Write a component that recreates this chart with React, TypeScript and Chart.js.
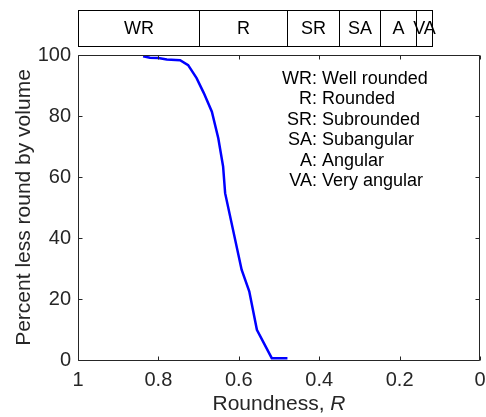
import { useEffect, useRef } from "react";
import { Chart, registerables } from "chart.js";

Chart.register(...registerables);

// Cumulative roundness distribution
const roundness = [0.838, 0.821, 0.8, 0.779, 0.746, 0.726, 0.705, 0.687, 0.667, 0.651, 0.639, 0.634, 0.593, 0.574, 0.555, 0.518, 0.479];
const percentLessRound = [99.6, 99.1, 99.0, 98.5, 98.3, 96.7, 92.4, 87.5, 81.4, 72.7, 63.4, 54.7, 29.6, 22.5, 9.9, 0.6, 0.6];

// Roundness classes (upper to lower bound)
const classBounds = [1, 0.7, 0.48, 0.35, 0.25, 0.16, 0.12];
const classCodes = ["WR", "R", "SR", "SA", "A", "VA"];
const classNames = ["Well rounded", "Rounded", "Subrounded", "Subangular", "Angular", "Very angular"];

const xTicks = [1, 0.8, 0.6, 0.4, 0.2, 0];
const yTicks = [0, 20, 40, 60, 80, 100];

const FONT = '"Liberation Sans", Arial, Helvetica, sans-serif';
const AXIS_COLOR = "#262626";

const decorations = {
  id: "decorations",
  afterDraw(chart: any) {
    const { ctx, chartArea: a } = chart;
    const xs = chart.scales.x;
    const ys = chart.scales.y;
    ctx.save();

    // axes box with inward tick marks
    const L = Math.round(a.left) + 0.5;
    const R = Math.round(a.right) - 0.5;
    const T = Math.round(a.top) + 0.5;
    const B = Math.round(a.bottom) + 0.5;
    ctx.strokeStyle = AXIS_COLOR;
    ctx.lineWidth = 1;
    ctx.beginPath();
    ctx.rect(L, T, R - L, B - T);
    const tick = 4;
    xTicks.forEach((v) => {
      const px = Math.round(xs.getPixelForValue(v)) + 0.5;
      ctx.moveTo(px, B);
      ctx.lineTo(px, B - tick);
      ctx.moveTo(px, T);
      ctx.lineTo(px, T + tick);
    });
    yTicks.forEach((v) => {
      const py = Math.round(ys.getPixelForValue(v)) + 0.5;
      ctx.moveTo(L, py);
      ctx.lineTo(L + tick, py);
      ctx.moveTo(R, py);
      ctx.lineTo(R - tick, py);
    });
    ctx.stroke();

    // class band above the plot
    const bandTop = 10.5;
    const bandBottom = 46.5;
    ctx.strokeStyle = "#000";
    ctx.fillStyle = "#000";
    ctx.font = `18px ${FONT}`;
    ctx.textAlign = "center";
    ctx.textBaseline = "middle";
    for (let i = 0; i < classCodes.length; i++) {
      const x0 = Math.round(xs.getPixelForValue(classBounds[i])) + 0.5;
      const x1 = Math.round(xs.getPixelForValue(classBounds[i + 1])) + 0.5;
      ctx.strokeRect(x0, bandTop, x1 - x0, bandBottom - bandTop);
      ctx.fillText(classCodes[i], (x0 + x1) / 2, 29);
    }

    // class legend
    const colonX = 317;
    const nameX = 322;
    const baseline0 = 83.5;
    const rowGap = 20.5;
    ctx.textBaseline = "alphabetic";
    classCodes.forEach((code, i) => {
      const by = baseline0 + i * rowGap;
      ctx.textAlign = "right";
      ctx.fillText(code + ":", colonX, by);
      ctx.textAlign = "left";
      ctx.fillText(classNames[i], nameX, by);
    });

    // x-axis title with italic symbol
    ctx.fillStyle = AXIS_COLOR;
    const plain = "Roundness, ";
    const sym = "R";
    const plainFont = `21px ${FONT}`;
    const symFont = `italic 21px ${FONT}`;
    ctx.font = plainFont;
    const w1 = ctx.measureText(plain).width;
    ctx.font = symFont;
    const w2 = ctx.measureText(sym).width;
    const cx = (a.left + a.right) / 2;
    const startX = cx - (w1 + w2) / 2;
    ctx.textAlign = "left";
    ctx.font = plainFont;
    ctx.fillText(plain, startX, 410);
    ctx.font = symFont;
    ctx.fillText(sym, startX + w1, 410);

    // y-axis title
    ctx.font = `21px ${FONT}`;
    ctx.textAlign = "center";
    ctx.translate(30, (a.top + a.bottom) / 2);
    ctx.rotate(-Math.PI / 2);
    ctx.fillText("Percent less round by volume", 0, 0);

    ctx.restore();
  },
};

export default function App() {
  const canvasRef = useRef<HTMLCanvasElement | null>(null);

  useEffect(() => {
    const canvas = canvasRef.current;
    if (!canvas) return;
    const chart = new Chart(canvas, {
      type: "line",
      data: {
        datasets: [
          {
            data: roundness.map((r, i) => ({ x: r, y: percentLessRound[i] })),
            borderColor: "#0000ff",
            borderWidth: 2.5,
            pointRadius: 0,
            tension: 0,
            fill: false,
          },
        ],
      },
      options: {
        responsive: false,
        animation: false,
        events: [],
        layout: { padding: { top: 55, right: 6, left: 0, bottom: 0 } },
        plugins: {
          legend: { display: false },
          tooltip: { enabled: false },
        },
        scales: {
          x: {
            type: "linear",
            reverse: true,
            min: 0,
            max: 1,
            afterBuildTicks: (s: any) => {
              s.ticks = xTicks.map((v) => ({ value: v }));
            },
            afterFit: (s: any) => {
              s.height = 57;
              s.paddingLeft = 0;
              s.paddingRight = 0;
            },
            ticks: {
              font: { size: 20, family: FONT },
              color: AXIS_COLOR,
              padding: 8,
              maxRotation: 0,
              callback: (v: any) => String(v),
            },
            grid: { display: false, drawTicks: false },
            border: { display: false },
          },
          y: {
            type: "linear",
            min: 0,
            max: 100,
            afterBuildTicks: (s: any) => {
              s.ticks = yTicks.map((v) => ({ value: v }));
            },
            afterFit: (s: any) => {
              s.width = 78;
              s.paddingTop = 0;
              s.paddingBottom = 0;
            },
            ticks: {
              font: { size: 20, family: FONT },
              color: AXIS_COLOR,
              padding: 7,
              callback: (v: any) => String(v),
            },
            grid: { display: false, drawTicks: false },
            border: { display: false },
          },
        },
      },
      plugins: [decorations],
    });
    return () => chart.destroy();
  }, []);

  return (
    <div style={{ position: "absolute", left: 0, top: 0, width: 486, height: 417, background: "#fff" }}>
      <canvas ref={canvasRef} width={486} height={417} style={{ display: "block" }} />
    </div>
  );
}
